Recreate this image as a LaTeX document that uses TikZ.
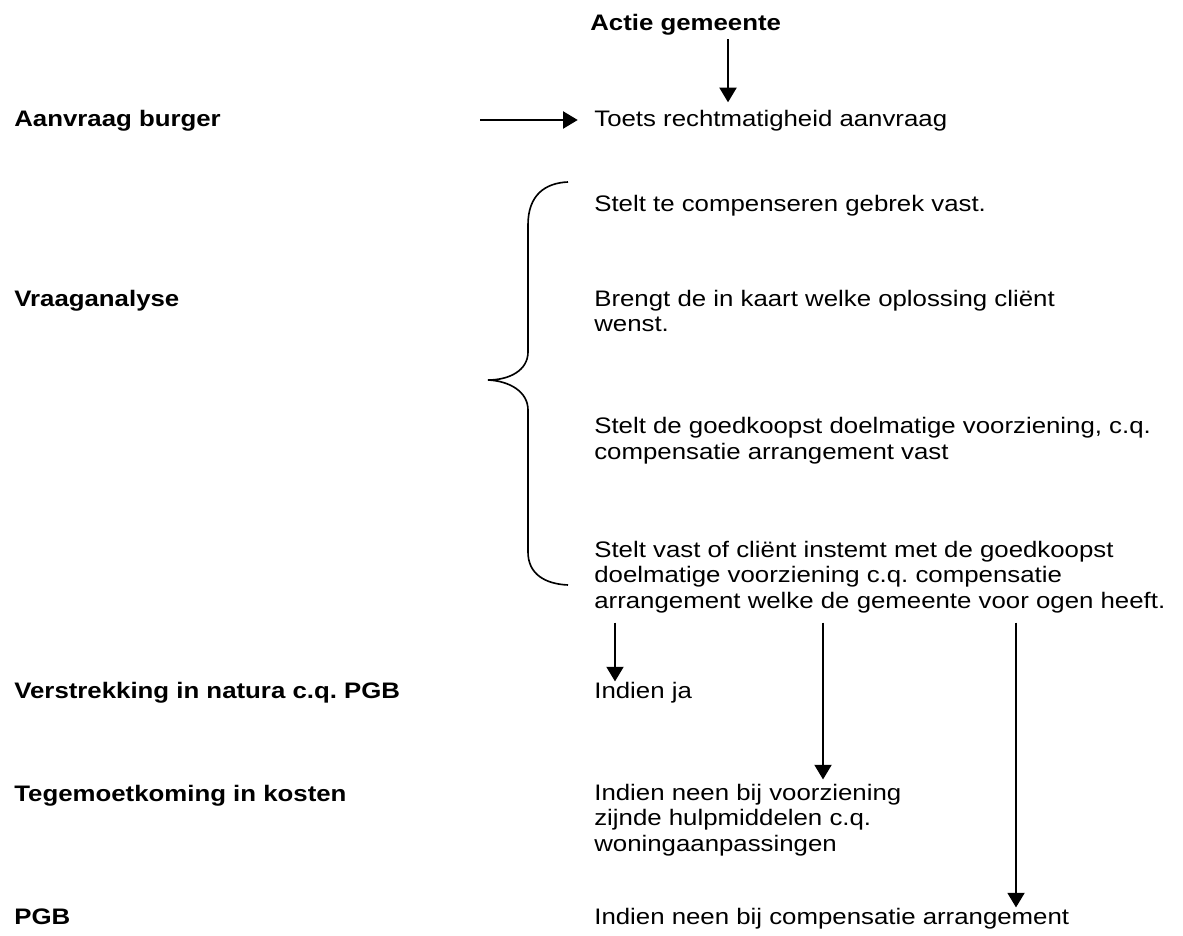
\documentclass[tikz,border=0pt]{standalone}
\usepackage{fontspec}
\setmainfont{Liberation Sans}[FakeStretch=1.15]
\usetikzlibrary{arrows.meta}
\frenchspacing

\tikzset{
  lbl/.style={anchor=base west,inner sep=0pt,font=\fontsize{13.8}{15.4}\selectfont\bfseries},
  txt/.style={anchor=base west,inner sep=0pt,align=left,font=\fontsize{13.8}{15.4}\selectfont},
  arr/.style={-{Triangle[length=9pt,width=10.5pt]},line width=1.1pt}
}

\begin{document}
\begin{tikzpicture}[x=0.615pt,y=-0.615pt]
  \useasboundingbox (0,0) rectangle (1183,936);
  % left column
  \node[lbl] (actie) at (590,31) {Actie gemeente};
  \node[lbl] (aanvraag) at (14,127) {Aanvraag burger};
  \node[lbl] (analyse) at (14,307) {Vraaganalyse};
  \node[lbl] (natura) at (14,698) {Verstrekking in natura c.q. PGB};
  \node[lbl] (kosten) at (14,801) {Tegemoetkoming in kosten};
  \node[lbl] (pgb) at (14,924) {PGB};
  % right column (base = last line)
  \node[txt] (toets) at (594,127) {Toets rechtmatigheid aanvraag};
  \node[txt] (vast1) at (594,212) {Stelt te compenseren gebrek vast.};
  \node[txt] (vast2) at (594,332) {Brengt de in kaart welke oplossing cli\"ent\\wenst.};
  \node[txt] (vast3) at (594,459) {Stelt de goedkoopst doelmatige voorziening, c.q.\\compensatie arrangement vast};
  \node[txt] (vast4) at (594,608) {Stelt vast of cli\"ent instemt met de goedkoopst\\doelmatige voorziening c.q. compensatie\\arrangement welke de gemeente voor ogen heeft.};
  \node[txt] (ja) at (594,698) {Indien ja};
  \node[txt] (neen) at (594,851) {Indien neen bij voorziening\\zijnde hulpmiddelen c.q.\\woningaanpassingen};
  \node[txt] (neen2) at (594,924) {Indien neen bij compensatie arrangement};
  % arrows
  \coordinate (start) at (480,120);
  \draw[arr,shorten <=2pt,shorten >=5pt] (actie.south -| 728,0) -- (toets.north -| 728,0);
  \draw[arr,shorten >=10pt] (start) -- (toets.west |- start);
  \draw[arr,shorten <=6pt] (vast4.south -| 615,0) -- (ja.north -| 615,0);
  \draw[arr,shorten <=6pt,shorten >=3pt] (vast4.south -| 823,0) -- (neen.north -| 823,0);
  \draw[arr,shorten <=6pt] (vast4.south -| 1016,0) -- (neen2.north -| 1016,0);
  % brace
  \draw[line width=1pt] (568,182) .. controls (545,183) and (528,195) .. (528,225)
    -- (528,352) .. controls (528,370) and (510,380) .. (488,380)
    .. controls (510,381) and (528,392) .. (528,410)
    -- (528,552) .. controls (528,574) and (545,584) .. (568,585);
\end{tikzpicture}
\end{document}
